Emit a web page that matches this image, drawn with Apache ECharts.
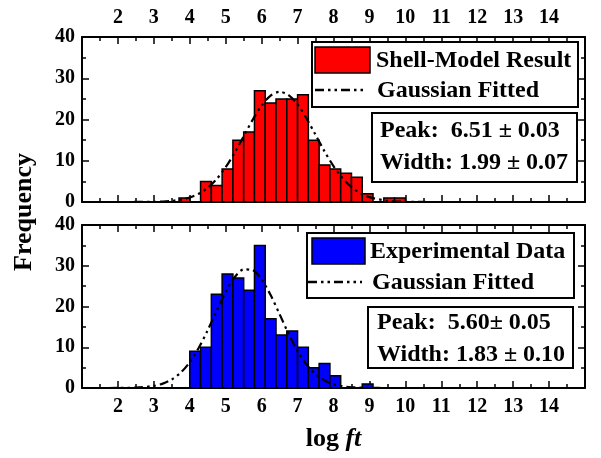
<!DOCTYPE html>
<html>
<head>
<meta charset="utf-8">
<script src="https://cdn.jsdelivr.net/npm/echarts@6/dist/echarts.min.js"></script>
<style>
html,body{margin:0;padding:0;background:#fff;}
#chart{width:601px;height:458px;}
</style>
</head>
<body>
<div id="chart"></div>
<script>
// ---- data ----
const xTickLabels = [2, 3, 4, 5, 6, 7, 8, 9, 10, 11, 12, 13, 14];
const binWidth = 0.3;
const shellBinCenters = [3.85, 4.15, 4.45, 4.75, 5.05, 5.35, 5.65, 5.95, 6.25, 6.55, 6.85, 7.15, 7.45, 7.75, 8.05, 8.35, 8.65, 8.95, 9.25, 9.55, 9.85];
const shellCounts     = [1,    0,    5,    4,    8,    15,   17,   27,   24,   25,   25,   26,   15,   9,    8,    7,    6,    2,    0,    1,    1];
const expBinCenters = [4.15, 4.45, 4.75, 5.05, 5.35, 5.65, 5.95, 6.25, 6.55, 6.85, 7.15, 7.45, 7.75, 8.05, 8.35, 8.65, 8.95];
const expCounts     = [9,    10,   23,   28,   27,   24,   35,   17,   13,   14,   10,   5,    6,    3,    0,    0,    1];
const fitX        = [1, 2, 2.5, 3, 3.25, 3.5, 3.75, 4, 4.25, 4.5, 4.75, 5, 5.25, 5.5, 5.75, 6, 6.25, 6.5, 6.75, 7, 7.25, 7.5, 7.75, 8, 8.25, 8.5, 8.75, 9, 9.5, 10, 11, 15];
const shellFitY   = [0, 0, 0.01, 0.05, 0.12, 0.28, 0.57, 1.11, 2.02, 3.47, 5.58, 8.44, 11.97, 15.95, 19.94, 23.4, 25.8, 26.7, 25.9, 23.65, 20.25, 16.28, 12.28, 8.7, 5.79, 3.61, 2.12, 1.17, 0.29, 0.06, 0, 0];
const expFitY     = [0, 0.01, 0.09, 0.52, 1.08, 2.1, 3.79, 6.35, 9.87, 14.2, 19.0, 23.6, 27.2, 29.1, 28.9, 26.6, 22.8, 18.1, 13.3, 9.08, 5.76, 3.39, 1.85, 0.94, 0.44, 0.19, 0.08, 0.03, 0, 0, 0, 0];
const shellStats = ['Peak:  6.51 \u00b1 0.03', 'Width: 1.99 \u00b1 0.07'];
const expStats   = ['Peak:  5.60\u00b1 0.05', 'Width: 1.83 \u00b1 0.10'];

// ---- styling ----
const FONT = '"Liberation Serif", "Times New Roman", serif';
const fitDash = [9, 4, 2.5, 4, 2.5, 4];

function histSeries(name, centers, counts, color, xi, yi) {
  return {
    name: name, type: 'custom', xAxisIndex: xi, yAxisIndex: yi,
    data: centers.map((c, i) => [c, counts[i]]),
    encode: { x: 0, y: 1 },
    z: 2,
    renderItem: function (params, api) {
      const c = api.value(0), v = api.value(1);
      if (!v) return null;
      const p0 = api.coord([c - binWidth / 2, v]);
      const p1 = api.coord([c + binWidth / 2, 0]);
      return {
        type: 'rect',
        shape: { x: p0[0], y: p0[1], width: p1[0] - p0[0], height: p1[1] - p0[1] },
        style: { fill: color, stroke: '#000', lineWidth: 1.5 }
      };
    }
  };
}
function fitSeries(ys, xi, yi) {
  return {
    name: 'Gaussian Fitted', type: 'line', xAxisIndex: xi, yAxisIndex: yi,
    data: fitX.map((x, i) => [x, ys[i]]),
    smooth: 0.3, symbol: 'none', z: 3,
    lineStyle: { color: '#000', width: 2.2, type: fitDash }
  };
}
function xAxis(grid, pos, labels, extra) {
  return Object.assign({
    type: 'value', gridIndex: grid, position: pos, min: 1, max: 15, interval: 1,
    axisLine: { show: true, onZero: false, lineStyle: { color: '#000', width: 2 } },
    axisTick: { show: true, inside: true, length: 7, lineStyle: { color: '#000', width: 1.5 } },
    minorTick: { show: true, splitNumber: 2, length: 4, lineStyle: { color: '#000', width: 1.5 } },
    splitLine: { show: false },
    axisLabel: {
      show: labels, margin: 9, color: '#000', fontFamily: FONT, fontWeight: 'bold', fontSize: 20,
      formatter: v => (xTickLabels.indexOf(v) >= 0 ? String(v) : '')
    }
  }, extra || {});
}
function yAxis(grid, pos, labels) {
  return {
    type: 'value', gridIndex: grid, position: pos, min: 0, max: 40, interval: 10,
    axisLine: { show: true, onZero: false, lineStyle: { color: '#000', width: 2 } },
    axisTick: { show: true, inside: true, length: 7, lineStyle: { color: '#000', width: 1.5 } },
    minorTick: { show: true, splitNumber: 2, length: 4, lineStyle: { color: '#000', width: 1.5 } },
    splitLine: { show: false },
    axisLabel: { show: labels, margin: 7, color: '#000', fontFamily: FONT, fontWeight: 'bold', fontSize: 20 }
  };
}
function txt(x, y, s, size) {
  return { type: 'text', z: 101, x: x, y: y,
    style: { text: s, fill: '#000', font: 'bold ' + (size || 24) + 'px ' + FONT, textVerticalAlign: 'middle', verticalAlign: 'middle' } };
}
function box(x, y, w, h) {
  return { type: 'rect', z: 100, shape: { x: x, y: y, width: w, height: h },
    style: { fill: '#fff', stroke: '#000', lineWidth: 2 } };
}
function swatch(x, y, w, h, color) {
  return { type: 'rect', z: 101, shape: { x: x, y: y, width: w, height: h },
    style: { fill: color, stroke: '#000', lineWidth: 1.5 } };
}
function dashLine(x1, x2, y) {
  return { type: 'line', z: 101, shape: { x1: x1, y1: y, x2: x2, y2: y },
    style: { stroke: '#000', lineWidth: 2.5, lineDash: fitDash } };
}

const chart = echarts.init(document.getElementById('chart'), null, { renderer: 'canvas' });
chart.setOption({
  animation: false,
  backgroundColor: '#fff',
  grid: [
    { left: 82, right: 16, top: 37, height: 165 },
    { left: 82, right: 16, top: 225, height: 163 }
  ],
  xAxis: [
    xAxis(0, 'top', true),
    xAxis(0, 'bottom', false),
    xAxis(1, 'bottom', true, {
      name: '{a|log }{b|ft}', nameLocation: 'middle', nameGap: 38,
      nameTextStyle: { rich: {
        a: { fontFamily: FONT, fontWeight: 'bold', fontSize: 26, color: '#000' },
        b: { fontFamily: FONT, fontWeight: 'bold', fontStyle: 'italic', fontSize: 26, color: '#000' }
      } }
    }),
    xAxis(1, 'top', false)
  ],
  yAxis: [
    yAxis(0, 'left', true),
    yAxis(0, 'right', false),
    yAxis(1, 'left', true),
    yAxis(1, 'right', false)
  ],
  series: [
    histSeries('Shell-Model Result', shellBinCenters, shellCounts, '#ff0000', 0, 0),
    fitSeries(shellFitY, 0, 0),
    histSeries('Experimental Data', expBinCenters, expCounts, '#0000ff', 2, 2),
    fitSeries(expFitY, 2, 2)
  ],
  graphic: [
    // y axis title
    { type: 'text', z: 101, x: 24, y: 212, rotation: Math.PI / 2,
      style: { text: 'Frequency', fill: '#000', font: 'bold 26px ' + FONT, align: 'center', textAlign: 'center', verticalAlign: 'middle', textVerticalAlign: 'middle' } },
    // top legend
    box(312, 42, 266, 65),
    swatch(315, 47, 55, 26, '#ff0000'),
    txt(376, 61, 'Shell-Model Result'),
    dashLine(315, 364, 90),
    txt(377, 91, 'Gaussian Fitted'),
    // top stats
    box(372, 113, 205, 69),
    txt(380, 131, shellStats[0]),
    txt(380, 163, shellStats[1]),
    // bottom legend
    box(307, 233, 267, 65),
    swatch(312, 238, 53, 26, '#0000ff'),
    txt(370, 252, 'Experimental Data'),
    dashLine(308, 362, 282),
    txt(372, 283, 'Gaussian Fitted'),
    // bottom stats
    box(368, 307, 205, 61),
    txt(377, 323, expStats[0]),
    txt(377, 355, expStats[1])
  ]
});
</script>
</body>
</html>
